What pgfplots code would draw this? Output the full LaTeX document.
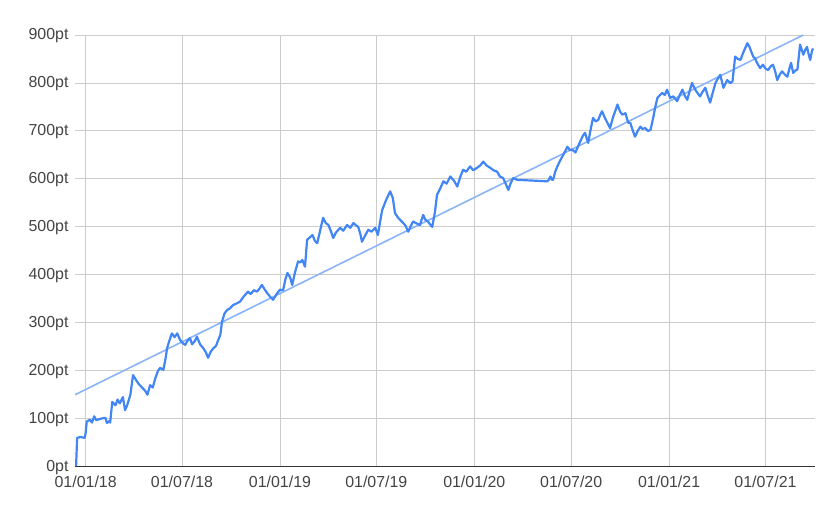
\documentclass[border=0pt]{standalone}
\usepackage{pgfplots}
\pgfplotsset{compat=1.18}
\usepackage{fontspec}
\setmainfont{Liberation Sans}
\definecolor{gblue}{RGB}{66,133,244}
\definecolor{gtrend}{RGB}{138,180,248}
\definecolor{gridc}{RGB}{204,204,204}
\definecolor{labc}{RGB}{68,68,68}
\begin{document}
\begin{tikzpicture}
\useasboundingbox (-75bp,-52.3bp) rectangle (765bp,466.7bp);
\begin{axis}[
  at={(0,0)}, anchor=south west,
  scale only axis, width=740bp, height=431.7bp,
  xmin=-20, xmax=1370, ymin=0, ymax=900,
  axis line style={draw=none},
  xtick={0,181,365,546,730,912,1096,1277},
  xticklabels={01/01/18,01/07/18,01/01/19,01/07/19,01/01/20,01/07/20,01/01/21,01/07/21},
  ytick={0,100,...,900},
  yticklabels={0pt,100pt,200pt,300pt,400pt,500pt,600pt,700pt,800pt,900pt},
  grid=major,
  major grid style={gridc, line width=0.9bp},
  major tick length=0pt,
  tick label style={font=\fontsize{16}{19}\selectfont, text=labc},
  xticklabel style={yshift=-6bp},
  yticklabel style={xshift=-3bp, yshift=-1bp},
  /pgf/number format/assume math mode=true,
  clip=true,
]
\addplot[gtrend, line width=1.6bp] coordinates {(-20,150) (1348,900)};
\addplot[gblue, line width=2.2bp, line join=round] coordinates {
(-18,0) (-17,30) (-16,60) (-10,62) (-2,60) (0,70) (2,94) (8,98) (12,92) (16,105) (20,97) (28,100) (37,102) (40,91) (44,95) (46,92)
(50,135) (56,128) (60,140) (64,132) (70,145) (74,118) (78,128) (84,150) (89,191) (95,180) (100,172) (106,165) (112,158) (116,150)
(121,170) (126,165) (131,185) (136,200) (140,206) (146,202) (150,225) (153,247) (157,262) (162,278) (167,270) (172,278) (177,265)
(182,258) (187,254) (191,262) (196,268) (200,255) (205,262) (209,271) (215,255) (221,247) (226,238) (230,227) (235,240) (240,247)
(245,252) (249,264) (253,275) (256,302) (261,320) (266,327) (271,330) (277,337) (283,340) (290,344) (297,355) (305,365) (310,360)
(316,368) (322,365) (327,372) (331,379) (336,370) (341,362) (346,355) (352,348) (356,355) (360,362) (365,369) (371,368) (375,390)
(379,404) (384,395) (388,379) (393,404) (399,428) (403,426) (407,431) (412,417) (416,473) (421,478) (426,483) (431,470) (435,466)
(440,490) (446,519) (451,508) (456,504) (461,490) (465,477) (470,488) (478,498) (484,492) (491,504) (497,498) (503,508) (508,503)
(512,500) (516,485) (519,469) (525,482) (531,494) (537,490) (544,498) (549,483) (553,510) (557,535) (564,555) (572,574) (577,560)
(581,529) (587,519) (593,512) (600,504) (603,497) (606,490) (610,500) (615,511) (622,507) (628,504) (634,525) (638,515) (643,511)
(647,505) (651,500) (656,530) (660,567) (666,580) (672,595) (678,590) (685,605) (692,596) (698,584) (704,605) (709,619) (715,615)
(722,626) (728,618) (735,623) (741,628) (747,636) (753,628) (760,623) (766,618) (773,615) (778,605) (784,602) (789,590) (794,577)
(798,590) (803,602) (811,598) (867,595) (870,598) (873,605) (876,598) (878,598) (882,615) (886,626) (892,640) (897,650) (905,667)
(910,660) (914,661) (920,655) (925,668) (929,678) (934,690) (938,696) (944,675) (948,700) (953,727) (958,720) (963,723) (966,732)
(970,741) (975,728) (980,717) (985,706) (991,730) (995,742) (999,755) (1004,740) (1008,734) (1014,737) (1019,717) (1023,717)
(1028,700) (1032,688) (1037,700) (1042,709) (1046,704) (1051,706) (1056,700) (1061,702) (1066,727) (1070,750) (1074,769) (1079,775)
(1083,779) (1088,775) (1092,786) (1098,769) (1104,772) (1111,762) (1116,775) (1121,786) (1126,772) (1130,765) (1135,785) (1139,800)
(1145,786) (1150,778) (1154,772) (1159,782) (1164,790) (1168,775) (1173,759) (1178,780) (1183,800) (1188,810) (1192,817) (1198,790)
(1205,806) (1211,800) (1215,803) (1220,855) (1225,850) (1230,848) (1235,863) (1243,883) (1247,875) (1250,866) (1254,855) (1258,850)
(1261,842) (1267,831) (1272,838) (1277,830) (1282,827) (1287,835) (1291,838) (1295,825) (1299,806) (1304,818) (1308,824) (1313,818)
(1318,813) (1322,830) (1325,842) (1329,821) (1333,826) (1337,828) (1342,880) (1348,859) (1352,870) (1355,875) (1358,860) (1361,848)
(1364,865) (1366,872)
};
\draw[black!80, line width=1bp] (axis cs:-20,0) -- (axis cs:1370,0);
\end{axis}
\end{tikzpicture}
\end{document}
